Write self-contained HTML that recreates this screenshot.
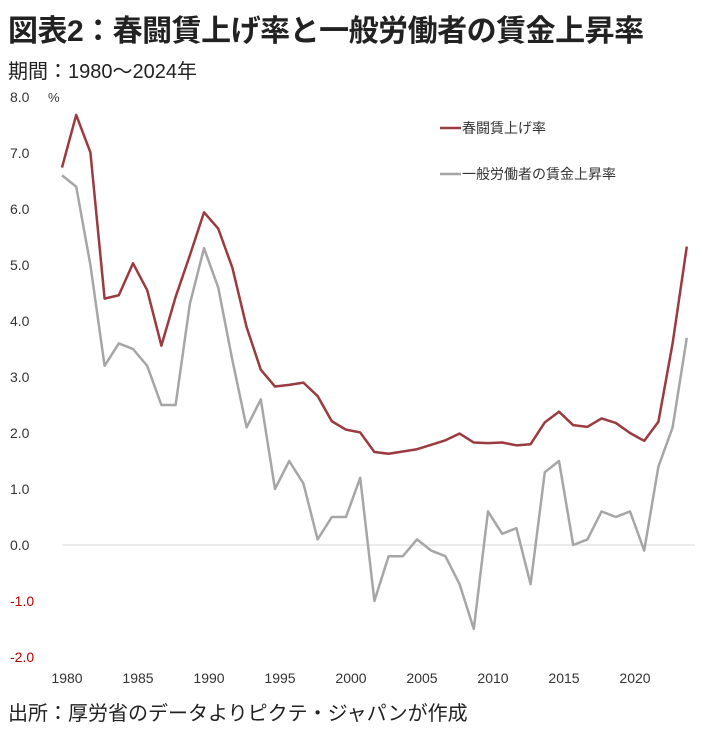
<!DOCTYPE html>
<html><head><meta charset="utf-8"><style>
body{margin:0;background:#fff;width:703px;height:730px;overflow:hidden;font-family:"Liberation Sans","Noto Sans CJK JP",sans-serif;}
.t{position:absolute;left:8px;white-space:nowrap;color:#222}
</style></head><body>
<div class="t" style="top:6px;font-size:30px;font-weight:bold;letter-spacing:-0.5px">図表2：春闘賃上げ率と一般労働者の賃金上昇率</div>
<div class="t" style="top:55px;font-size:20px">期間：1980～2024年</div>
<div class="t" style="top:697px;font-size:20px">出所：厚労省のデータよりピクテ・ジャパンが作成</div>
<svg id="c" width="703" height="730" style="position:absolute;left:0;top:0"></svg>
<script>
const years=[];for(let y=1980;y<=2024;y++)years.push(y);
const shunto=[6.74,7.68,7.01,4.40,4.46,5.03,4.55,3.56,4.43,5.17,5.94,5.65,4.95,3.89,3.13,2.83,2.86,2.90,2.66,2.21,2.06,2.01,1.66,1.63,1.67,1.71,1.79,1.87,1.99,1.83,1.82,1.83,1.78,1.80,2.19,2.38,2.14,2.11,2.26,2.18,2.00,1.86,2.20,3.60,5.33];
const general=[6.6,6.4,5.0,3.2,3.6,3.5,3.2,2.5,2.5,4.3,5.3,4.6,3.3,2.1,2.6,1.0,1.5,1.1,0.1,0.5,0.5,1.2,-1.0,-0.2,-0.2,0.1,-0.1,-0.2,-0.7,-1.5,0.6,0.2,0.3,-0.7,1.3,1.5,0.0,0.1,0.6,0.5,0.6,-0.1,1.4,2.1,3.7];
const yTicks=[8,7,6,5,4,3,2,1,0,-1,-2];
const xTicks=[1980,1985,1990,1995,2000,2005,2010,2015,2020];
const NS='http://www.w3.org/2000/svg',svg=document.getElementById('c');
const X=y=>62+(y-1980)*14.2, Y=v=>545-v*56;
function el(t,a,txt){const e=document.createElementNS(NS,t);for(const k in a)e.setAttribute(k,a[k]);if(txt!=null)e.textContent=txt;svg.appendChild(e);return e;}
const zl=el('line',{x1:62,x2:695,y1:Y(0),y2:Y(0),stroke:'#d9d9d9','stroke-width':1});


yTicks.forEach(v=>{const t=el('text',{x:10,y:Y(v)+5,'font-size':14,fill:v<0?'#c00000':'#333'},v.toFixed(1));

});
const pc=el('text',{x:48,y:Y(8)+5,'font-size':13,fill:'#333'},'%');


xTicks.forEach(v=>{const t=el('text',{x:X(v)+5,y:683,'font-size':14,fill:'#333','text-anchor':'middle'},v);

});
function line(d,c,n){const p=el('polyline',{points:d.map((v,i)=>X(years[i])+','+Y(v)).join(' '),fill:'none',stroke:c,'stroke-width':2.5,'stroke-linejoin':'round'});

}
line(general,'#a6a6a6','general-wage-line');
line(shunto,'#9b3a3f','shunto-line');
[['春闘賃上げ率','#9b3a3f',128,'legend-entry-shunto'],['一般労働者の賃金上昇率','#a6a6a6',174,'legend-entry-general']].forEach(([t,c,y,n])=>{
const g=document.createElementNS(NS,'g');svg.appendChild(g);


const l=document.createElementNS(NS,'line');l.setAttribute('x1',440);l.setAttribute('x2',461);l.setAttribute('y1',y);l.setAttribute('y2',y);l.setAttribute('stroke',c);l.setAttribute('stroke-width',2.5);g.appendChild(l);
const tx=document.createElementNS(NS,'text');tx.setAttribute('x',462);tx.setAttribute('y',y+5);tx.setAttribute('font-size',14);tx.setAttribute('fill','#333');tx.textContent=t;g.appendChild(tx);});
</script>
</body></html>
